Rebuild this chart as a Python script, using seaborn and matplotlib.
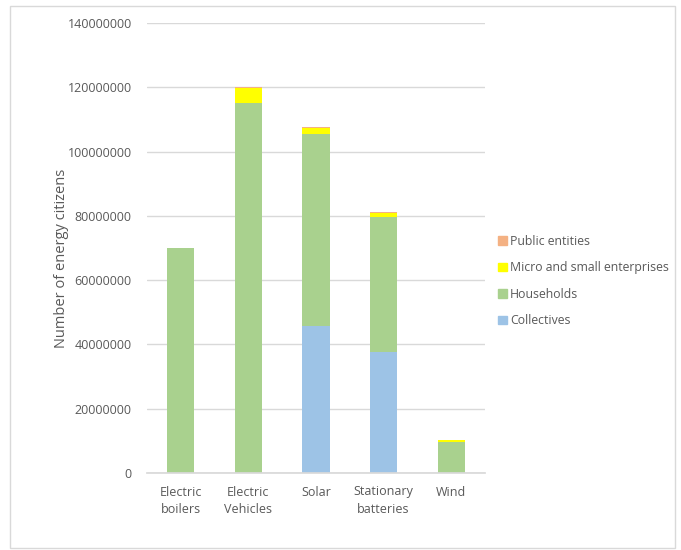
import matplotlib
matplotlib.use("Agg")
import matplotlib.pyplot as plt
import matplotlib.patches as mpatches
import seaborn as sns
import numpy as np
import pandas as pd

categories = ["Electric\nboilers", "Electric\nVehicles", "Solar", "Stationary\nbatteries", "Wind"]
collectives = [0, 0, 45600000, 37600000, 0]
households = [70000000, 115000000, 60000000, 42000000, 9600000]
micro_small = [0, 4800000, 1600000, 1400000, 600000]
public_entities = [0, 300000, 300000, 300000, 100000]

series_names = ["Collectives", "Households", "Micro and small enterprises", "Public entities"]
series_colors = ["#9DC3E6", "#A9D18E", "#FFFF00", "#F4B183"]
yticks = [0, 20000000, 40000000, 60000000, 80000000, 100000000, 120000000, 140000000]

sns.set_theme(style="white")
plt.rcParams["font.family"] = ["Open Sans", "DejaVu Sans"]

fig = plt.figure(figsize=(6.81, 5.5), dpi=100)
ax = fig.add_axes([147 / 681, 1 - 473 / 550, (485 - 147) / 681, (473 - 23) / 550])

data = [collectives, households, micro_small, public_entities]
cum = np.cumsum(np.array(data, dtype=float), axis=0)
# draw cumulative stacks from top down so each lower layer overlays
for i in range(len(series_names) - 1, -1, -1):
    df = pd.DataFrame({"cat": categories, "val": cum[i]})
    sns.barplot(data=df, x="cat", y="val", color=series_colors[i], saturation=1,
                width=0.4, ax=ax, linewidth=0, order=categories)

ax.set_ylim(0, 140000000)
ax.set_yticks(yticks)
ax.set_yticklabels([str(v) for v in yticks])
ax.yaxis.grid(True, color="#D9D9D9", linewidth=1)
ax.set_axisbelow(True)
for s in ["top", "right", "left"]:
    ax.spines[s].set_visible(False)
ax.spines["bottom"].set_color("#D9D9D9")
ax.tick_params(axis="both", length=0, labelsize=9, colors="#595959")
ax.tick_params(axis="y", pad=11)
ax.tick_params(axis="x", pad=9)
for lbl in ax.get_xticklabels():
    lbl.set_linespacing(1.45)
ax.set_xlabel("")
ax.set_ylabel("Number of energy citizens", fontsize=10.5, color="#595959")
ax.yaxis.set_label_coords((69 - 147) / 338, (473 - 258) / 450)

handles = [mpatches.Patch(color=series_colors[i], label=series_names[i]) for i in range(3, -1, -1)]
fig.legend(handles=handles, loc="center left", bbox_to_anchor=(487 / 681, 1 - 281 / 550),
           frameon=False, fontsize=8.8, labelcolor="#595959", handlelength=0.7, handleheight=0.7,
           handletextpad=0.3, labelspacing=1.1)

fig.patches.append(mpatches.Rectangle((10 / 681, 1 - 548 / 550), 665 / 681, 542 / 550,
                                      transform=fig.transFigure, fill=False,
                                      edgecolor="#D9D9D9", linewidth=1))

fig.savefig("out.png", dpi=100, facecolor="white")
